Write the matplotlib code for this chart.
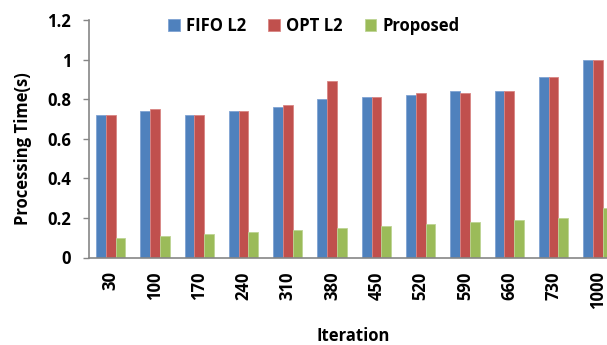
import numpy as np
import matplotlib.pyplot as plt

plt.rcParams['font.family'] = ['Open Sans', 'DejaVu Sans']
plt.rcParams['font.weight'] = 'bold'

iterations = ['30', '100', '170', '240', '310', '380', '450', '520', '590', '660', '730', '1000']
fifo_l2 = [0.72, 0.74, 0.72, 0.74, 0.76, 0.80, 0.81, 0.82, 0.84, 0.84, 0.91, 1.00]
opt_l2 = [0.72, 0.75, 0.72, 0.74, 0.77, 0.89, 0.81, 0.83, 0.83, 0.84, 0.91, 1.00]
proposed = [0.10, 0.11, 0.12, 0.13, 0.14, 0.15, 0.16, 0.17, 0.18, 0.19, 0.20, 0.25]

fig = plt.figure(figsize=(6.07, 3.45), dpi=100)
# the right end of the axes goes past the figure edge, like the cropped original
ax = fig.add_axes([88.5 / 607, 87.5 / 345, 531.5 / 607, 237.5 / 345])

x = np.arange(len(iterations))
w = 0.22
ax.bar(x - w, fifo_l2, w, color='#4F81BD', edgecolor='#7FA3D3', linewidth=0.6, label='FIFO L2')
ax.bar(x, opt_l2, w, color='#C0504D', edgecolor='#D98583', linewidth=0.6, label='OPT L2')
ax.bar(x + w, proposed, w, color='#9BBB59', edgecolor='#BDD494', linewidth=0.6, label='Proposed')

ax.set_xlim(-0.5, len(iterations) - 0.5)
ax.set_ylim(0, 1.2)
ax.set_yticks([0, 0.2, 0.4, 0.6, 0.8, 1.0, 1.2])
ax.set_yticklabels(['0', '0.2', '0.4', '0.6', '0.8', '1', '1.2'])
ax.set_xticks(x)
ax.set_xticklabels(iterations, rotation=90)

for s in ['top', 'right']:
    ax.spines[s].set_visible(False)
for s in ['left', 'bottom']:
    ax.spines[s].set_color('#868686')
    ax.spines[s].set_linewidth(1.2)

ax.tick_params(axis='y', direction='out', length=4.5, width=1.0, color='#868686',
               labelsize=12, pad=8)
ax.tick_params(axis='x', length=0, labelsize=12, pad=10)

ax.set_ylabel('Processing Time(s)', fontsize=12, fontweight='bold')
ax.yaxis.set_label_coords(-56 / 531.5, 0.46)
ax.set_xlabel('Iteration', fontsize=12, fontweight='bold')
ax.xaxis.set_label_coords((353 - 88.5) / 531.5, -0.293)

fig.legend(loc='center', bbox_to_anchor=(314 / 607, 1 - 26 / 345), ncol=3, frameon=False,
           fontsize=12, handlelength=0.7, handleheight=0.7, handletextpad=0.4,
           columnspacing=1.3, borderpad=0)

plt.savefig('out.png', dpi=100)
